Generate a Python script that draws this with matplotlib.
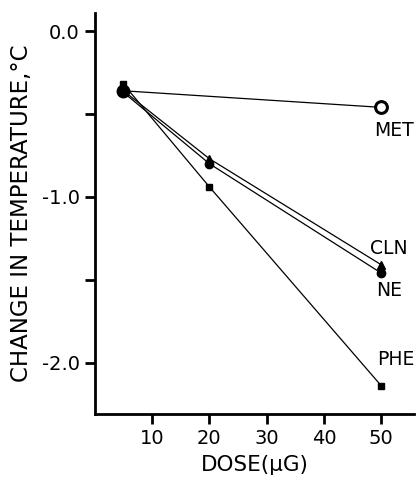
import matplotlib
matplotlib.use("Agg")
import matplotlib.pyplot as plt

dose = [5, 20, 50]
met_dose = [5, 50]
met = [-0.36, -0.46]
cln = [-0.36, -0.77, -1.41]
ne = [-0.37, -0.80, -1.46]
phe = [-0.32, -0.94, -2.14]
xticks = [10, 20, 30, 40, 50]
yticks = [0.0, -1.0, -2.0]
yticklabels = ["0.0", "-1.0", "-2.0"]

fig = plt.figure(figsize=(4.16, 4.78), dpi=100)
ax = fig.add_axes([0.228, 0.134, 0.767, 0.839])

lw = 0.9
ax.plot(met_dose, met, color="black", lw=lw, zorder=2)
ax.plot(met_dose[1:], met[1:], "o", ms=8.5, mfc="white", mec="black", mew=2.2, zorder=4)
ax.plot(met_dose[:1], met[:1], "o", ms=9, color="black", zorder=4)
ax.plot(dose, cln, color="black", lw=lw, marker="^", ms=6, zorder=3)
ax.plot(dose, ne, color="black", lw=lw, marker="o", ms=6, zorder=3)
ax.plot(dose, phe, color="black", lw=lw, marker="s", ms=5, zorder=3)

fs = 13.5
ax.annotate("MET", (met_dose[1], met[1]), xytext=(-5, -10), textcoords="offset points",
            ha="left", va="top", fontsize=fs)
ax.annotate("CLN", (dose[2], cln[2]), xytext=(-8, 5), textcoords="offset points",
            ha="left", va="bottom", fontsize=fs)
ax.annotate("NE", (dose[2], ne[2]), xytext=(-4, -6), textcoords="offset points",
            ha="left", va="top", fontsize=fs)
ax.annotate("PHE", (dose[2], phe[2]), xytext=(-3, 12), textcoords="offset points",
            ha="left", va="bottom", fontsize=fs)

ax.set_xlim(0, 55.7)
ax.set_ylim(-2.31, 0.11)
ax.set_xticks(xticks)
ax.set_xticklabels([str(t) for t in xticks], fontsize=14)
ax.set_yticks(yticks)
ax.set_yticklabels(yticklabels, fontsize=14)
ax.set_yticks([-0.5, -1.5], minor=True)
ax.tick_params(axis="both", which="both", direction="out", length=7, width=2, pad=4)

for s in ["top", "right"]:
    ax.spines[s].set_visible(False)
for s in ["left", "bottom"]:
    ax.spines[s].set_linewidth(2)

ax.set_xlabel("DOSE(μG)", fontsize=15.5, labelpad=5)
ax.set_ylabel("CHANGE IN TEMPERATURE,°C", fontsize=16.5, labelpad=6)

fig.savefig("out.png", dpi=100)
